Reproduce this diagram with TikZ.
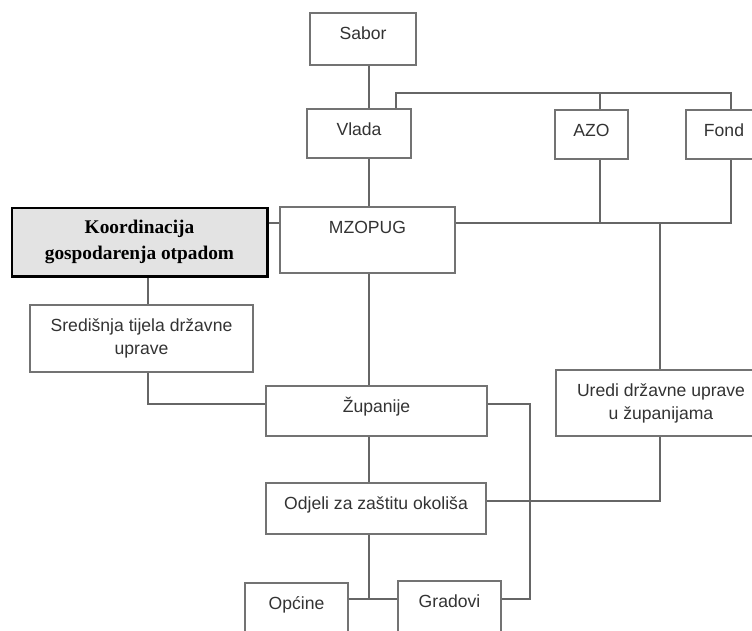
\documentclass[tikz,border=0pt]{standalone}
\usepackage{fontspec}
\setmainfont{Liberation Sans}
\newfontfamily\serifbold{Liberation Serif}
\usepackage{tikz}

\begin{document}
\begin{tikzpicture}[x=0.2mm, y=-0.2mm, line width=1pt]
        \tikzstyle{box} = [draw = black!55, fill = white, inner sep = 0pt, text = black!80, font = \fontsize{10}{13}\selectfont, text height = 5.3mm]
        \tikzstyle{twoline} = [draw = black!55, fill = white, inner sep = 2pt, text = black!80, font = \fontsize{10}{13}\selectfont, align = center]
        \tikzstyle{link} = [draw = black!60, line width = 1.1pt]
        \useasboundingbox (0,0) rectangle (752,630);
        \clip (0,0) rectangle (752,630);
        \fill[white] (0,0) rectangle (752,630);
        % top level
        \node[box] (Sabor) at (363, 39) [minimum width = 21.2mm, text depth = 5.1mm] {Sabor};
        \node[box] (Vlada) at (359, 133.5) [minimum width = 20.8mm, text depth = 4.5mm] {Vlada};
        \node[box] (AZO) at (591.5, 134.5) [minimum width = 14.6mm, text depth = 4.5mm] {AZO};
        \node[box] (Fond) at (724, 134.5) [minimum width = 15.2mm, text depth = 4.5mm] {Fond};
        \node[box] (MZOPUG) at (367.5, 240) [minimum width = 35mm, text depth = 7.9mm] {MZOPUG};
        \node[draw, line width = 1.7pt, fill = black!11, align = center, minimum width = 51mm, minimum height = 13.6mm, font = \serifbold\bfseries\fontsize{11}{14.5}\selectfont] (Koord) at (139.5, 242) {Koordinacija\\gospodarenja otpadom};
        % middle level
        \node[twoline] (Sred) at (141.5, 338.5) [minimum width = 44.6mm, minimum height = 13.4mm] {Središnja tijela državne\\uprave};
        \node[box] (Zup) at (376.5, 411) [minimum width = 44.2mm, text depth = 4.7mm] {Županije};
        \node[twoline] (Uredi) at (661, 403) [minimum width = 42mm, minimum height = 13.2mm] {Uredi državne uprave\\u županijama};
        \node[box] (Odjeli) at (376, 508.5) [minimum width = 44mm, text depth = 4.9mm] {Odjeli za zaštitu okoliša};
        % bottom level
        \node[box] (Opc) at (296.5, 616.5) [minimum width = 20.6mm, text depth = 8.1mm] {Općine};
        \node[box] (Grad) at (449.5, 615.5) [minimum width = 20.6mm, text depth = 8.5mm] {Gradovi};
        % junction points
        \coordinate (spine) at (369, 0);
        \coordinate (bus) at (0, 93);
        \coordinate (M) at (0, 223);
        \coordinate (J) at (660, 223);
        \coordinate (K) at (148, 0);
        \coordinate (Z) at (530, 0);
        \coordinate (B) at (0, 599);
        \draw[link] (Sabor.south -| spine) -- (Vlada.north -| spine);
        \draw[link] ([xshift = 7.4mm]Vlada.north) |- ([xshift = 1.4mm]Fond.north |- bus) -- ([xshift = 1.4mm]Fond.north);
        \draw[link] ([xshift = 1.7mm]AZO.north) -- ([xshift = 1.7mm]AZO.north |- bus);
        \draw[link] (Vlada.south -| spine) -- (MZOPUG.north -| spine);
        \draw[link] (MZOPUG.east |- M) -| ([xshift = 1.4mm]Fond.south);
        \draw[link] ([xshift = 1.7mm]AZO.south) -- ([xshift = 1.7mm]AZO.south |- M);
        \draw[link] (J) -- (Uredi.north -| J);
        \draw[link] (Koord.east |- M) -- (MZOPUG.west |- M);
        \draw[link] (Koord.south -| K) -- (Sred.north -| K);
        \draw[link] (Sred.south -| K) |- ([yshift = 1.4mm]Zup.west);
        \draw[link] (MZOPUG.south -| spine) -- (Zup.north -| spine);
        \draw[link] ([yshift = 1.4mm]Zup.east) -| (Z |- B) -- (Grad.east |- B);
        \draw[link] (Zup.south -| spine) -- (Odjeli.north -| spine);
        \draw[link] ([yshift = 1.5mm]Odjeli.east) -| (Uredi.south -| J);
        \draw[link] (Odjeli.south -| spine) -- (spine |- B);
        \draw[link] (Opc.east |- B) -- (Grad.west |- B);
      \end{tikzpicture}
\end{document}
